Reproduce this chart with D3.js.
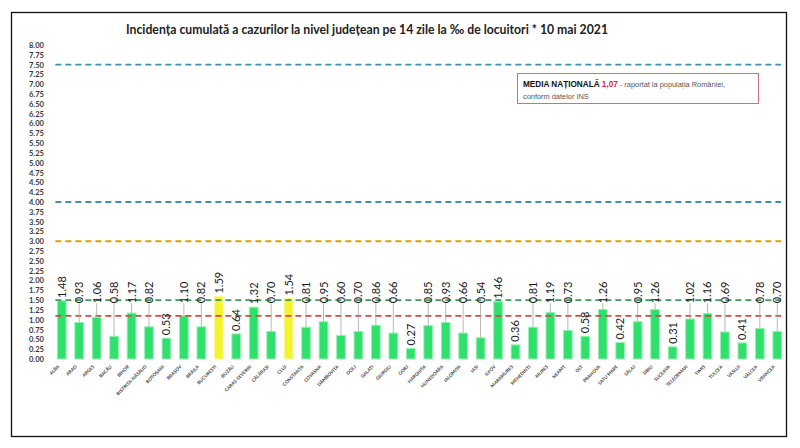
<!DOCTYPE html>
<html><head><meta charset="utf-8">
<script src="https://cdn.jsdelivr.net/npm/d3@7"></script>
<style>body{margin:0;background:#fff;} svg{display:block;}</style>
</head><body><svg id="c" width="800" height="448"></svg>
<script>
const counties = ["ALBA","ARAD","ARGEȘ","BACĂU","BIHOR","BISTRIȚA-NĂSĂUD","BOTOȘANI","BRAȘOV","BRĂILA","BUCUREȘTI","BUZĂU","CARAȘ-SEVERIN","CĂLĂRAȘI","CLUJ","CONSTANȚA","COVASNA","DÂMBOVIȚA","DOLJ","GALAȚI","GIURGIU","GORJ","HARGHITA","HUNEDOARA","IALOMIȚA","IAȘI","ILFOV","MARAMUREȘ","MEHEDINȚI","MUREȘ","NEAMȚ","OLT","PRAHOVA","SATU MARE","SĂLAJ","SIBIU","SUCEAVA","TELEORMAN","TIMIȘ","TULCEA","VASLUI","VÂLCEA","VRANCEA"];
const values = [1.48,0.93,1.06,0.58,1.17,0.82,0.53,1.10,0.82,1.59,0.64,1.32,0.70,1.54,0.81,0.95,0.60,0.70,0.86,0.66,0.27,0.85,0.93,0.66,0.54,1.46,0.36,0.81,1.19,0.73,0.58,1.26,0.42,0.95,1.26,0.31,1.02,1.16,0.69,0.41,0.78,0.70];
const highlighted = ["BUCUREȘTI","CLUJ"];
const labelsOnBar = ["BOTOȘANI","BUZĂU","GORJ","MARAMUREȘ","OLT","SATU MARE","SUCEAVA","VASLUI"];
const yTicks = d3.range(0, 8.001, 0.25);
const refLines = [
  {v:7.5, c:"#3f8fb0"},
  {v:4.0, c:"#3f8fb0"},
  {v:3.0, c:"#d9a400"},
  {v:1.5, c:"#3c9a5f"},
  {v:1.1, c:"#d9464a"}
];
const title = "Incidența cumulată a cazurilor la nivel județean pe 14 zile la ‰ de locuitori *  10 mai 2021";
const nationalAvg = "1,07";

const svg = d3.select("#c");
const font = "Lato, 'Open Sans', sans-serif";

// frame
svg.append("rect").attr("x",11.5).attr("y",12.5).attr("width",775).attr("height",424)
  .attr("fill","none").attr("stroke","#111").attr("stroke-width",1.3);

const x = d3.scaleBand().domain(counties).range([53, 786]).paddingInner(0.5).paddingOuter(0.25);
const y = d3.scaleLinear().domain([0, 8]).range([359, 45]);

// title
svg.append("text").attr("x",367).attr("y",34).attr("text-anchor","middle")
  .attr("font-family",font).attr("font-weight","bold").attr("font-size",12.5).attr("fill","#222")
  .attr("textLength",482).attr("lengthAdjust","spacingAndGlyphs").text(title);

// y axis
const yAxis = d3.axisLeft(y).tickValues(yTicks).tickFormat(d3.format(".2f")).tickSize(0).tickPadding(0);
const ga = svg.append("g").attr("transform","translate(44,0)").call(yAxis);
ga.select(".domain").remove();
ga.selectAll("text").attr("font-family",font).attr("font-weight","bold").attr("font-size",7.6).attr("fill","#3a3a3a");

// bars
svg.append("g").selectAll("rect").data(counties).join("rect")
  .attr("x", d => x(d)).attr("width", x.bandwidth())
  .attr("y", (d,i) => y(values[i])).attr("height", (d,i) => y(0) - y(values[i]))
  .attr("fill", d => highlighted.includes(d) ? "#f4f42c" : "#2fe06c")
  .attr("stroke", d => highlighted.includes(d) ? "#f8f8a0" : "#9af0b4").attr("stroke-width",1);

// reference lines
const lx0 = x(counties[0]) - 2, lx1 = 781;
svg.append("g").selectAll("line").data(refLines).join("line")
  .attr("x1", lx0).attr("x2", lx1).attr("y1", d => y(d.v)).attr("y2", d => y(d.v))
  .attr("stroke", d => d.c).attr("stroke-width", 1.8).attr("stroke-dasharray","6,4");

// value labels
const labelBase = y(1.42);
const lg = svg.append("g");
counties.forEach((c, i) => {
  const v = values[i];
  const cx = x(c) + x.bandwidth()/2;
  const top = y(v);
  let start;
  if (labelsOnBar.includes(c) || top - 4 < labelBase) {
    start = top - 3;
  } else {
    start = labelBase;
    lg.append("line").attr("x1", cx).attr("x2", cx).attr("y1", start).attr("y2", top)
      .attr("stroke","#9a9a9a").attr("stroke-width",0.7);
  }
  lg.append("text").attr("transform", `translate(${cx + 4},${start}) rotate(-90)`)
    .attr("font-family",font).attr("font-size",11).attr("fill","#1a1a1a")
    .text(d3.format(".2f")(v));
});

// x labels
svg.append("g").selectAll("text").data(counties).join("text")
  .attr("transform", d => `translate(${x(d) + x.bandwidth()/2 - 2},${367}) rotate(-45)`)
  .attr("text-anchor","end").attr("font-family",font).attr("font-weight","bold")
  .attr("font-size",4.6).attr("fill","#444").text(d => d);

// legend box
svg.append("rect").attr("x",517.5).attr("y",73.5).attr("width",241).attr("height",30)
  .attr("fill","#fff").attr("stroke","#c9737c").attr("stroke-width",1);
const t1 = svg.append("text").attr("x",523).attr("y",87).attr("font-family","'Liberation Sans', Arial, sans-serif").attr("font-size",8.2);
t1.append("tspan").attr("font-weight","bold").attr("fill","#111").text("MEDIA NAȚIONALĂ ");
t1.append("tspan").attr("font-weight","bold").attr("fill","#d0284a").text(" " + nationalAvg);
t1.append("tspan").attr("fill","#555").attr("font-size",7.4).text(" - raportat la populația României,");
svg.append("text").attr("x",523).attr("y",99).attr("font-family","'Liberation Sans', Arial, sans-serif")
  .attr("font-size",7.4).attr("fill","#555").text("conform datelor INS");
</script></body></html>
